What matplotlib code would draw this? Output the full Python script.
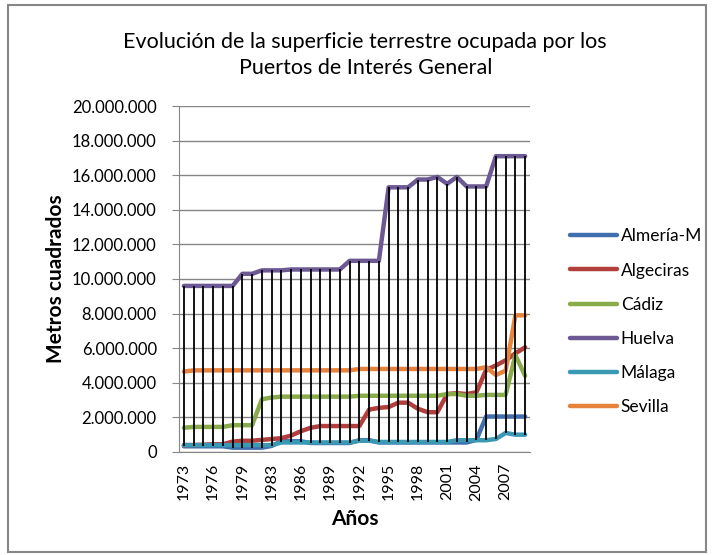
import matplotlib
matplotlib.use('Agg')
import matplotlib.pyplot as plt
from matplotlib.patches import Rectangle
from matplotlib.ticker import FuncFormatter

plt.rcParams['font.family'] = ['Lato', 'DejaVu Sans']

# categories (one year missing between 1979 and 1983 in the source)
years = ['1973', '1974', '1975', '1976', '1977', '1978', '1979', '1980', '1982',
         '1983', '1984', '1985', '1986', '1987', '1988', '1989', '1990', '1991',
         '1992', '1993', '1994', '1995', '1996', '1997', '1998', '1999', '2000',
         '2001', '2002', '2003', '2004', '2005', '2006', '2007', '2008', '2009']

# superficie en millones de m2
almeria = [0.33] * 5 + [0.25] * 4 + [0.35] + [0.62] * 3 + [0.52] * 5 + [0.68] * 2 + [0.55] * 10 + [0.7] + [2.05] * 5
algeciras = [0.4, 0.4, 0.42, 0.45, 0.45, 0.6, 0.65, 0.65, 0.7, 0.75, 0.8, 0.95, 1.2, 1.4,
             1.5, 1.5, 1.5, 1.5, 1.5, 2.45, 2.55, 2.6, 2.85, 2.85, 2.5, 2.3, 2.3, 3.35, 3.4,
             3.35, 3.45, 4.75, 5.0, 5.3, 5.7, 6.05]
cadiz = [1.4] + [1.45] * 4 + [1.55] * 3 + [3.05, 3.15] + [3.2] * 8 + [3.25] * 9 + [3.35] * 2 + [3.25] * 2 + [3.3] * 3 + [5.6, 4.4]
huelva = [9.6] * 6 + [10.3, 10.3] + [10.5] * 3 + [10.55] * 6 + [11.05] * 4 + [15.3] * 3 + [15.75] * 2 + [15.9, 15.5, 15.9] + [15.35] * 3 + [17.1] * 4
malaga = [0.4] * 10 + [0.55] * 8 + [0.65] * 2 + [0.58] * 8 + [0.68] * 4 + [0.75, 1.1, 1.0, 1.0]
sevilla = [4.65] + [4.72] * 17 + [4.8] * 13 + [4.9, 4.45, 4.7, 7.9, 7.9]

series = [('Almería-M', almeria, '#3f6fad'),
          ('Algeciras', algeciras, '#b23f3c'),
          ('Cádiz', cadiz, '#8aab4a'),
          ('Huelva', huelva, '#6c5893'),
          ('Málaga', malaga, '#3a9ab5'),
          ('Sevilla', sevilla, '#e5843a')]

fig = plt.figure(figsize=(7.12, 5.55), dpi=100)
ax = fig.add_axes([0.2514, 0.1856, 0.493, 0.6234])

x = list(range(len(years)))
for name, vals, col in series:
    ax.plot(x, [v * 1e6 for v in vals], color=col, lw=3.2, label=name,
            solid_capstyle='round', zorder=3)

# high-low lines
lows = [min(s[1][i] for s in series) * 1e6 for i in x]
highs = [max(s[1][i] for s in series) * 1e6 for i in x]
ax.vlines(x, lows, highs, color='black', lw=1.3, zorder=4)

ax.set_xlim(-0.5, len(years) - 0.5)
ax.set_ylim(0, 20e6)
ax.set_yticks(range(0, 20000001, 2000000))
ax.yaxis.set_major_formatter(FuncFormatter(lambda v, p: f'{int(v):,}'.replace(',', '.')))
ax.grid(axis='y', color='#868686', lw=1)
ax.set_axisbelow(True)
ax.set_xticks(x[::3])
ax.set_xticklabels(years[::3], rotation=90, fontsize=11.5)
ax.tick_params(axis='x', length=0, pad=8)
ax.tick_params(axis='y', length=5, color='#868686', labelsize=12, pad=11)
for s in ['top', 'right']:
    ax.spines[s].set_visible(False)
for s in ['left', 'bottom']:
    ax.spines[s].set_color('#868686')

ax.set_ylabel('Metros cuadrados', fontsize=15, fontweight='bold', labelpad=4)
ax.set_xlabel('Años', fontsize=15, fontweight='bold', labelpad=6)

fig.text(0.513, 0.925, 'Evolución de la superficie terrestre ocupada por los',
         ha='center', va='center', fontsize=15.5)
fig.text(0.513, 0.877, 'Puertos de Interés General', ha='center', va='center', fontsize=15.5)

fig.legend(loc='center left', bbox_to_anchor=(0.778, 0.42), frameon=False,
           fontsize=12.5, handlelength=2.75, handletextpad=0.2, labelspacing=1.05)

fig.patches.append(Rectangle((0.011, 0.006), 0.98, 0.985, transform=fig.transFigure,
                             fill=False, edgecolor='#868686', lw=1.5))

fig.savefig('out.png', dpi=100)
